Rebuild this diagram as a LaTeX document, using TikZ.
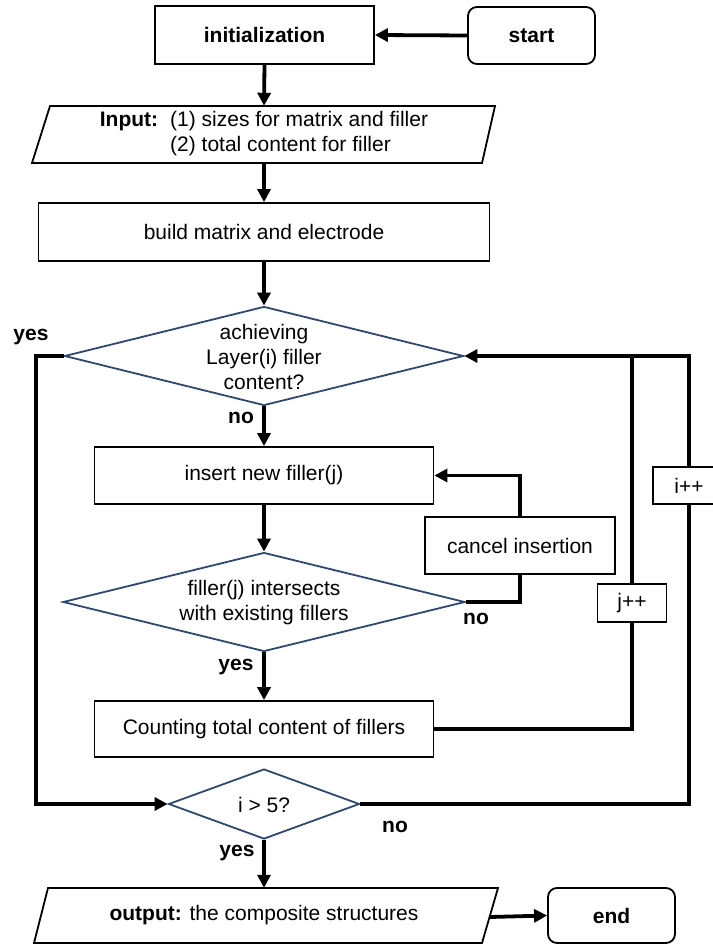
\documentclass[tikz,border=0pt]{standalone}
\usepackage{fontspec}
\setmainfont{Liberation Sans}
\usetikzlibrary{arrows.meta,shapes.geometric}
\definecolor{dnavy}{RGB}{46,72,110}
\begin{document}
\begin{tikzpicture}[x=1pt,y=-1pt,
  font=\fontsize{21}{25}\selectfont,
  box/.style={draw, line width=1.8pt, inner sep=0pt, align=center},
  rbox/.style={box, rounded corners=9pt},
  dia/.style={draw=dnavy, line width=1.8pt, diamond, inner sep=0pt},
  txt/.style={inner sep=0pt, align=center},
  lab/.style={inner sep=0pt, font=\fontsize{21}{25}\selectfont\bfseries},
  conn/.style={line width=3.8pt},
  arr/.style={conn, -{Triangle[length=13pt,width=13pt]}},
]
\useasboundingbox (0,0) rectangle (712,944);

% boxes
\node[box, minimum width=219, minimum height=58] (init) at (264.5,35) {\bfseries initialization};
\node[rbox, minimum width=127, minimum height=57] (start) at (531.5,35.5) {\bfseries start};

\node[txt, minimum width=450, minimum height=57] (input) at (264,134.5)
  {\begin{tabular}{@{}l@{\hspace{12pt}}l@{}}\textbf{Input:} & (1) sizes for matrix and filler\\ & (2) total content for filler\end{tabular}};
\draw[line width=1.8pt, line join=miter] (50,106) -- (495,106) -- (482,163) -- (32,163) -- cycle;

\node[box, minimum width=451, minimum height=58] (build) at (264,232) {build matrix and electrode};

\node[dia, minimum width=399, minimum height=99] (d1) at (264,356) {};
\node[txt] (d1t) at (264,357) {achieving\\Layer(i) filler\\content?};

\node[box, minimum width=339, minimum height=57] (insert) at (264,475.5) {insert new filler(j)};
\node[box, minimum width=190, minimum height=57] (cancel) at (520,545.5) {cancel insertion};

\node[dia, minimum width=402, minimum height=99] (d2) at (264,602) {};
\node[txt] (d2t) at (264,602.5) {filler(j) intersects\\with existing fillers};

\node[box, minimum width=339, minimum height=56] (count) at (264,729) {Counting total content of fillers};

\node[dia, minimum width=191, minimum height=70] (d3) at (264,804) {};
\node[txt] (d3t) at (264,805) {i > 5?};

\node[txt, minimum width=450, minimum height=55] (output) at (264,915.5) {\textbf{output:} the composite structures};
\draw[line width=1.8pt, line join=miter] (48,888) -- (498,888) -- (482,943) -- (34,943) -- cycle;
\coordinate (outR) at (490,917);

\node[rbox, minimum width=127, minimum height=55] (end) at (611.5,915.5) {\bfseries end};

\node[box, minimum width=72, minimum height=37] (ipp) at (689,485.5) {i++};
\node[box, minimum width=69, minimum height=38] (jpp) at (632,603) {j++};

% labels
\node[lab] (lyes1) at (31,337) {yes};
\node[lab] (lno1) at (241,418) {no};
\node[lab] (lno2) at (476,619) {no};
\node[lab] (lyes2) at (236,667) {yes};
\node[lab] (lno3) at (395,827) {no};
\node[lab] (lyes3) at (237,853) {yes};

% connectors
\draw[arr] (start.west) -- (init.east);
\draw[arr] (init.south) -- (input.north);
\draw[arr] (input.south) -- (build.north);
\draw[arr] (build.south) -- (d1.north);
\draw[arr] (d1.south) -- (insert.north);
\draw[arr] (insert.south) -- (d2.north);
\draw[conn] (d2.east) -| (cancel.south);
\draw[arr] (cancel.north) |- (insert.east);
\draw[arr] (d2.south) -- (count.north);
\draw[conn] (count.east) -| (jpp.south);
\draw[conn] (jpp.north) -- (jpp.north |- d1.east);
\draw[conn] (d3.east) -| (ipp.south);
\draw[arr] (ipp.north) |- (d1.east);
\draw[arr] (d1.west) -- ++(-27.5,0) |- (d3.west);
\draw[arr] (d3.south) -- (output.north);
\draw[arr] (outR) -- (end.west);
\end{tikzpicture}
\end{document}
